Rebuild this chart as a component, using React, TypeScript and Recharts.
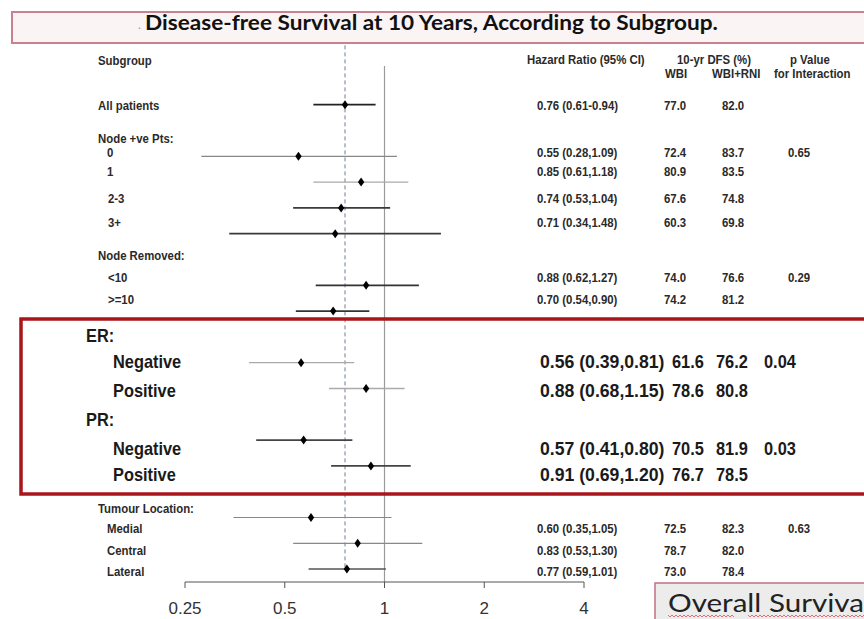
import { ScatterChart, Scatter, XAxis, YAxis, ReferenceLine } from "recharts";

// Subgroup rows, top to bottom
const subgroups = [
  "All patients", "0", "1", "2-3", "3+", "<10", ">=10",
  "Negative", "Positive", "Negative", "Positive",
  "Medial", "Central", "Lateral",
];
// Plot row of each subgroup (header rows sit in the gaps)
const rowIndex = [1, 3, 4, 5, 6, 8, 9, 11, 12, 14, 15, 17, 18, 19];
const hr = [0.76, 0.55, 0.85, 0.74, 0.71, 0.88, 0.70, 0.56, 0.88, 0.57, 0.91, 0.60, 0.83, 0.77];
const lo = [0.61, 0.28, 0.61, 0.53, 0.34, 0.62, 0.54, 0.39, 0.68, 0.41, 0.69, 0.35, 0.53, 0.59];
const hi = [0.94, 1.09, 1.18, 1.04, 1.48, 1.27, 0.90, 0.81, 1.15, 0.80, 1.20, 1.05, 1.30, 1.01];
const wbi = [77.0, 72.4, 80.9, 67.6, 60.3, 74.0, 74.2, 61.6, 78.6, 70.5, 76.7, 72.5, 78.7, 73.0];
const wbiRni = [82.0, 83.7, 83.5, 74.8, 69.8, 76.6, 81.2, 76.2, 80.8, 81.9, 78.5, 82.3, 82.0, 78.4];
const pInteraction = ["", "0.65", "", "", "", "0.29", "", "0.04", "", "0.03", "", "0.63", "", ""];
const groupHeaders = ["Node +ve Pts:", "Node Removed:", "ER:", "PR:", "Tumour Location:"];
const overallHr = 0.76;
const xTicks = [0.25, 0.5, 1, 2, 4];

// ---- styling / layout ----
const W = 864;
const H = 619;
const ARIAL = '"Liberation Sans", Arial, sans-serif';
const TITLE_FONT = 'Lato, "Open Sans", sans-serif';

const BIG_ROWS = new Set([7, 8, 9, 10]);
const BIG_HEADERS = new Set([2, 3]);
const ciTone = ["#222", "#888", "#aaa", "#3a3a3a", "#3a3a3a", "#333", "#333",
  "#aaa", "#aaa", "#444", "#444", "#888", "#888", "#555"];
const ciWidth = [1.8, 1.2, 1.2, 1.8, 1.8, 1.8, 1.8, 1.3, 1.3, 1.8, 1.8, 1.2, 1.2, 1.5];

const labelX = [98, 107, 107, 108, 108, 108, 108, 113, 113, 113, 113, 107, 107, 107];
const labelY = [105, 152, 171, 198, 222, 277, 299, 362, 391, 449, 475, 528, 550, 571];
const headerX = [98, 98, 86, 86, 98];
const headerY = [138, 255, 336, 420, 508];
const colSmall = { hr: 537, wbi: 664, rni: 722, p: 788 };
const colBig = { hr: 540, wbi: 672, rni: 716, p: 764 };

const fmt2 = (v: number) => v.toFixed(2);
const fmt1 = (v: number) => v.toFixed(1);

function Diamond(props: any) {
  const { cx, cy } = props;
  if (cx == null || cy == null) return null;
  return <path d={`M${cx},${cy - 4.5}L${cx + 3.2},${cy}L${cx},${cy + 4.5}L${cx - 3.2},${cy}Z`} fill="#000" />;
}

// Condensed bold text (Arial Narrow look); sx overrides the squeeze
function Txt({ x, y, big, sx, children }: any) {
  const k = sx ?? (big ? 0.91 : 0.95);
  return (
    <text transform={`translate(${x},${y}) scale(${k},1)`} dominantBaseline="central"
      fontFamily={ARIAL} fontWeight="bold" fontSize={big ? 18 : 12} fill={big ? "#1a1a1a" : "#2a2a2a"}>
      {children}
    </text>
  );
}

function squiggle(x0: number, x1: number, y: number) {
  let d = `M${x0},${y}`;
  for (let x = x0, k = 0; x < x1; x += 2, k++) d += `L${x + 2},${y + (k % 2 ? 0 : 2)}`;
  return d;
}

export default function App() {
  const points = rowIndex.map((r, i) => ({ row: r, hr: hr[i] }));

  return (
    <div style={{ position: "absolute", left: 0, top: 0, width: W, height: H, overflow: "hidden", background: "#fff" }}>
      <ScatterChart width={W} height={H} margin={{ top: 40.2, right: 280, bottom: 0, left: 185 }}>
        <XAxis type="number" dataKey="hr" scale="log" domain={[0.25, 4]} ticks={xTicks}
          allowDataOverflow height={37} tickSize={6} tickMargin={14} stroke="#555"
          tickFormatter={(v: number) => String(v)}
          tick={{ fontFamily: ARIAL, fontSize: 17, fill: "#333" }} />
        <YAxis type="number" dataKey="row" domain={[-1.5, 19.5]} reversed hide width={0} />
        <ReferenceLine segment={[{ x: 1, y: -0.5 }, { x: 1, y: 19.5 }]} stroke="#9a9a9a" strokeWidth={1.2} ifOverflow="visible" />
        <ReferenceLine segment={[{ x: overallHr, y: -1.3 }, { x: overallHr, y: 19 }]}
          stroke="#6f7f90" strokeWidth={1} strokeDasharray="4 3" ifOverflow="visible" />
        {rowIndex.map((r, i) => (
          <ReferenceLine key={i} segment={[{ x: lo[i], y: r }, { x: hi[i], y: r }]}
            stroke={ciTone[i]} strokeWidth={ciWidth[i]} ifOverflow="visible" />
        ))}
        <Scatter data={points} shape={Diamond} isAnimationActive={false} />
      </ScatterChart>

      <svg width={W} height={H} style={{ position: "absolute", left: 0, top: 0, pointerEvents: "none" }}>
        {/* title banner */}
        <rect x={12} y={12} width={860} height={31} fill="#fbf4f4" stroke="#c98190" strokeWidth={2} />
        <text x={138} y={29} fontFamily={TITLE_FONT} fontSize={12} fill="#999">.</text>
        <text x={145} y={30} fontFamily={TITLE_FONT} fontWeight="bold" fontSize={21}
          textLength={573} lengthAdjust="spacingAndGlyphs" fill="#111">
          Disease-free Survival at 10 Years, According to Subgroup.
        </text>

        {/* column headings */}
        <Txt x={98} y={60}>Subgroup</Txt>
        <Txt x={527} y={59}>Hazard Ratio (95% CI)</Txt>
        <Txt x={677} y={59}>10-yr DFS (%)</Txt>
        <Txt x={665} y={73}>WBI</Txt>
        <Txt x={712} y={73}>WBI+RNI</Txt>
        <Txt x={790} y={59}>p Value</Txt>
        <Txt x={774} y={73}>for Interaction</Txt>

        {groupHeaders.map((h, i) => (
          <Txt key={h + i} x={headerX[i]} y={headerY[i]} big={BIG_HEADERS.has(i)}>{h}</Txt>
        ))}

        {subgroups.map((s, i) => {
          const big = BIG_ROWS.has(i);
          const c = big ? colBig : colSmall;
          const sep = i === 0 ? "-" : ",";
          return (
            <g key={i}>
              <Txt x={labelX[i]} y={labelY[i]} big={big}>{s}</Txt>
              <Txt x={c.hr} y={labelY[i]} big={big} sx={big ? 0.98 : undefined}>
                {`${fmt2(hr[i])} (${fmt2(lo[i])}${sep}${fmt2(hi[i])})`}
              </Txt>
              <Txt x={c.wbi} y={labelY[i]} big={big}>{fmt1(wbi[i])}</Txt>
              <Txt x={c.rni} y={labelY[i]} big={big}>{fmt1(wbiRni[i])}</Txt>
              {pInteraction[i] && <Txt x={c.p} y={labelY[i]} big={big}>{pInteraction[i]}</Txt>}
            </g>
          );
        })}

        {/* highlighted ER / PR block */}
        <rect x={21} y={319} width={860} height={175} fill="none" stroke="#a8161c" strokeWidth={3.5} />

        {/* next-slide tab */}
        <rect x={655} y={583} width={220} height={40} fill="#ececec" stroke="#c46f83" strokeWidth={1.5} />
        <text x={668} y={612} fontFamily={TITLE_FONT} fontSize={25} fill="#222"
          textLength={196} lengthAdjust="spacingAndGlyphs">Overall Surviva</text>
        <path d={squiggle(668, 733, 615)} stroke="#e05050" strokeWidth={0.8} fill="none" />
        <path d={squiggle(748, 864, 615)} stroke="#e05050" strokeWidth={0.8} fill="none" />
      </svg>
    </div>
  );
}
